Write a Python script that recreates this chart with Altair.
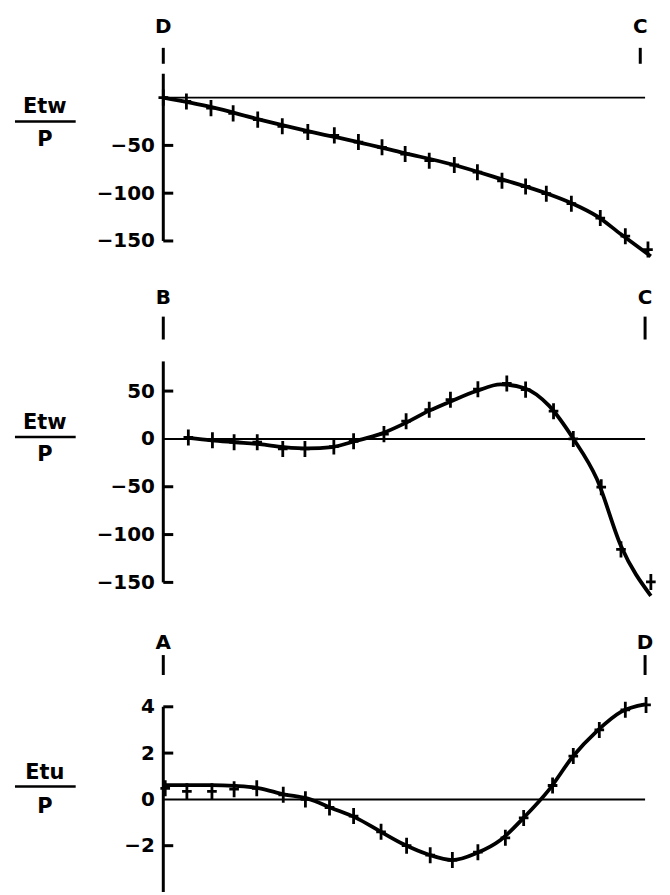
import altair as alt
import pandas as pd

# ---------------- data ----------------
# Panel 1: member D -> C, Etw/P
p1_mark_x = [0.0, 0.048, 0.099, 0.145, 0.196, 0.247, 0.300, 0.355, 0.405, 0.454, 0.502,
             0.552, 0.604, 0.652, 0.703, 0.752, 0.795, 0.847, 0.907, 0.959, 1.006]
p1_mark_y = [0, -4, -11, -16.5, -23, -30, -36, -39.5, -46.5, -52, -59,
             -66, -70.5, -78, -87, -93, -100.5, -111, -126, -145, -159]
p1_curve_x = [0.0, 0.1, 0.2, 0.3, 0.4, 0.5, 0.6, 0.7, 0.8, 0.85, 0.9, 0.95, 1.012]
p1_curve_y = [0, -10, -23, -35, -46, -58, -70, -85, -101, -111, -124, -143, -166]
p1_ticks = [-50, -100, -150]
p1_labels = [-50, -100, -150]
p1_axis = [-150, 25]
p1_ends = ["D", "C"]
p1_ends_x = [0.0, 0.99]

# Panel 2: member B -> C, Etw/P
p2_mark_x = [0.052, 0.102, 0.147, 0.195, 0.248, 0.294, 0.354, 0.395, 0.458, 0.504,
             0.552, 0.596, 0.653, 0.713, 0.752, 0.810, 0.851, 0.909, 0.950, 1.012]
p2_mark_y = [1.5, -1.5, -3.5, -3.5, -10.5, -10.5, -8, -2.5, 5, 18.5,
             30.5, 41, 52, 58, 51.5, 29, 0, -50.5, -115.5, -149.5]
p2_curve_x = [0.052, 0.1, 0.15, 0.2, 0.25, 0.3, 0.35, 0.4, 0.45, 0.5,
              0.55, 0.6, 0.65, 0.7, 0.75, 0.8, 0.85, 0.9, 0.95, 1.012]
p2_curve_y = [1, -1.5, -3.5, -5.5, -8.5, -10, -8.5, -2, 5, 16,
              29, 40, 50, 57, 53, 35, 1, -42, -112, -164]
p2_ticks = [50, -50, -100, -150]
p2_labels = [50, 0, -50, -100, -150]
p2_axis = [-150, 81]
p2_ends = ["B", "C"]
p2_ends_x = [0.0, 1.0]

# Panel 3: member A -> D, Etu/P
p3_mark_x = [0.004, 0.049, 0.101, 0.147, 0.194, 0.249, 0.295, 0.345, 0.395, 0.452, 0.505,
             0.554, 0.600, 0.653, 0.710, 0.748, 0.808, 0.851, 0.905, 0.959, 1.002]
p3_mark_y = [0.48, 0.35, 0.35, 0.44, 0.48, 0.2, 0.0, -0.35, -0.72, -1.4, -2.0,
             -2.41, -2.62, -2.28, -1.66, -0.8, 0.6, 1.87, 3.0, 3.87, 4.08]
p3_curve_x = [0.0, 0.1, 0.15, 0.2, 0.25, 0.3, 0.35, 0.4, 0.45, 0.5,
              0.55, 0.6, 0.65, 0.7, 0.75, 0.8, 0.85, 0.9, 0.95, 1.0]
p3_curve_y = [0.62, 0.62, 0.58, 0.48, 0.22, 0.03, -0.38, -0.8, -1.38, -1.95,
              -2.38, -2.62, -2.32, -1.75, -0.75, 0.4, 1.85, 2.95, 3.78, 4.1]
p3_ticks = [4, 2, -2]
p3_labels = [4, 2, 0, -2]
p3_axis = [-4, 4]
p3_ends = ["A", "D"]
p3_ends_x = [0.0, 1.0]

FONT = "DejaVu Sans"
PLUS = "M-0.6,0L0.6,0M0,-1L0,1"
W = 484


def panel(mark_x, mark_y, curve_x, curve_y, ticks, labels, axis_ext, domain, height,
          ends, ends_x, letter_y, tick_y, title_top, title_bottom, title_ys):
    xs = alt.Scale(domain=[0, 1], nice=False, zero=False)
    ys = alt.Scale(domain=domain, nice=False, zero=False)
    yaxis = alt.Axis(values=labels, ticks=False, grid=False, domain=False,
                     labelFont=FONT, labelFontSize=20,
                     labelFontWeight="bold", labelColor="black", labelPadding=9,
                     title=None)
    X = lambda f: alt.X(f, type="quantitative", scale=xs, axis=None)
    Y = lambda f: alt.Y(f, type="quantitative", scale=ys, axis=yaxis)

    marks = pd.DataFrame({"x": mark_x, "y": mark_y})
    curve = pd.DataFrame({"x": curve_x, "y": curve_y})
    zero = pd.DataFrame({"x": [0.0], "x2": [1.0], "y": [0.0]})
    tk = pd.DataFrame({"y": ticks})
    ax = pd.DataFrame({"lo": [axis_ext[0]], "hi": [axis_ext[1]]})
    en = pd.DataFrame({"x": ends_x, "lab": ends})
    one = pd.DataFrame({"a": [0]})

    al = alt.Chart(ax).mark_rule(color="black", strokeWidth=3).encode(
        y=Y("lo"), y2="hi", x=alt.value(0))
    zl = alt.Chart(zero).mark_rule(color="black", strokeWidth=2).encode(
        x=X("x"), x2="x2", y=Y("y"))
    tl = alt.Chart(tk).mark_rule(color="black", strokeWidth=3).encode(
        y=Y("y"), x=alt.value(0), x2=alt.value(10))
    ln = alt.Chart(curve).mark_line(color="black", strokeWidth=3.8,
                                    interpolate="monotone").encode(x=X("x"), y=Y("y"))
    pt = alt.Chart(marks).mark_point(shape=PLUS, size=260, filled=False,
                                     color="black", strokeWidth=2.8, opacity=1).encode(
        x=X("x"), y=Y("y"))
    lt = alt.Chart(en).mark_text(font=FONT, fontSize=20, fontWeight="bold",
                                 baseline="middle", align="center", color="black").encode(
        x=X("x"), y=alt.value(letter_y), text="lab:N")
    lk = alt.Chart(en).mark_rule(color="black", strokeWidth=3).encode(
        x=X("x"), y=alt.value(tick_y[0]), y2=alt.value(tick_y[1]))
    t1 = alt.Chart(one).mark_text(font=FONT, fontSize=21, fontWeight="bold",
                                  baseline="middle", align="center", color="black").encode(
        x=alt.value(-119), y=alt.value(title_ys[0]), text=alt.value(title_top))
    tr = alt.Chart(one).mark_rule(color="black", strokeWidth=2.5).encode(
        x=alt.value(-149), x2=alt.value(-88), y=alt.value(title_ys[1]))
    t2 = alt.Chart(one).mark_text(font=FONT, fontSize=21, fontWeight="bold",
                                  baseline="middle", align="center", color="black").encode(
        x=alt.value(-119), y=alt.value(title_ys[2]), text=alt.value(title_bottom))
    return alt.layer(al, zl, tl, ln, pt, lt, lk, t1, tr, t2).properties(width=W, height=height)


c1 = panel(p1_mark_x, p1_mark_y, p1_curve_x, p1_curve_y, p1_ticks, p1_labels, p1_axis,
           [-150, 25], 168, p1_ends, p1_ends_x, -47, (-26, -10), "Etw", "P",
           (33.5, 48, 66.5))
c2 = panel(p2_mark_x, p2_mark_y, p2_curve_x, p2_curve_y, p2_ticks, p2_labels, p2_axis,
           [-150, 81], 222, p2_ends, p2_ends_x, -64, (-45, -22), "Etw", "P",
           (61.5, 76, 94.5))
# panel 3 scale reaches a little above its axis line so the gap above it matches
c3 = panel(p3_mark_x, p3_mark_y, p3_curve_x, p3_curve_y, p3_ticks, p3_labels, p3_axis,
           [-4, 4.17], 190, p3_ends, p3_ends_x, -60, (-48, -28), "Etu", "P",
           (70.5, 84, 104.5))

chart = alt.vconcat(c1, c2, c3, spacing=121, bounds="flush").properties(
    padding={"left": 5, "top": 7, "right": 0, "bottom": 0}
).configure_view(stroke=None)

chart.save("out.html", embed_options={"renderer": "svg", "actions": False})
